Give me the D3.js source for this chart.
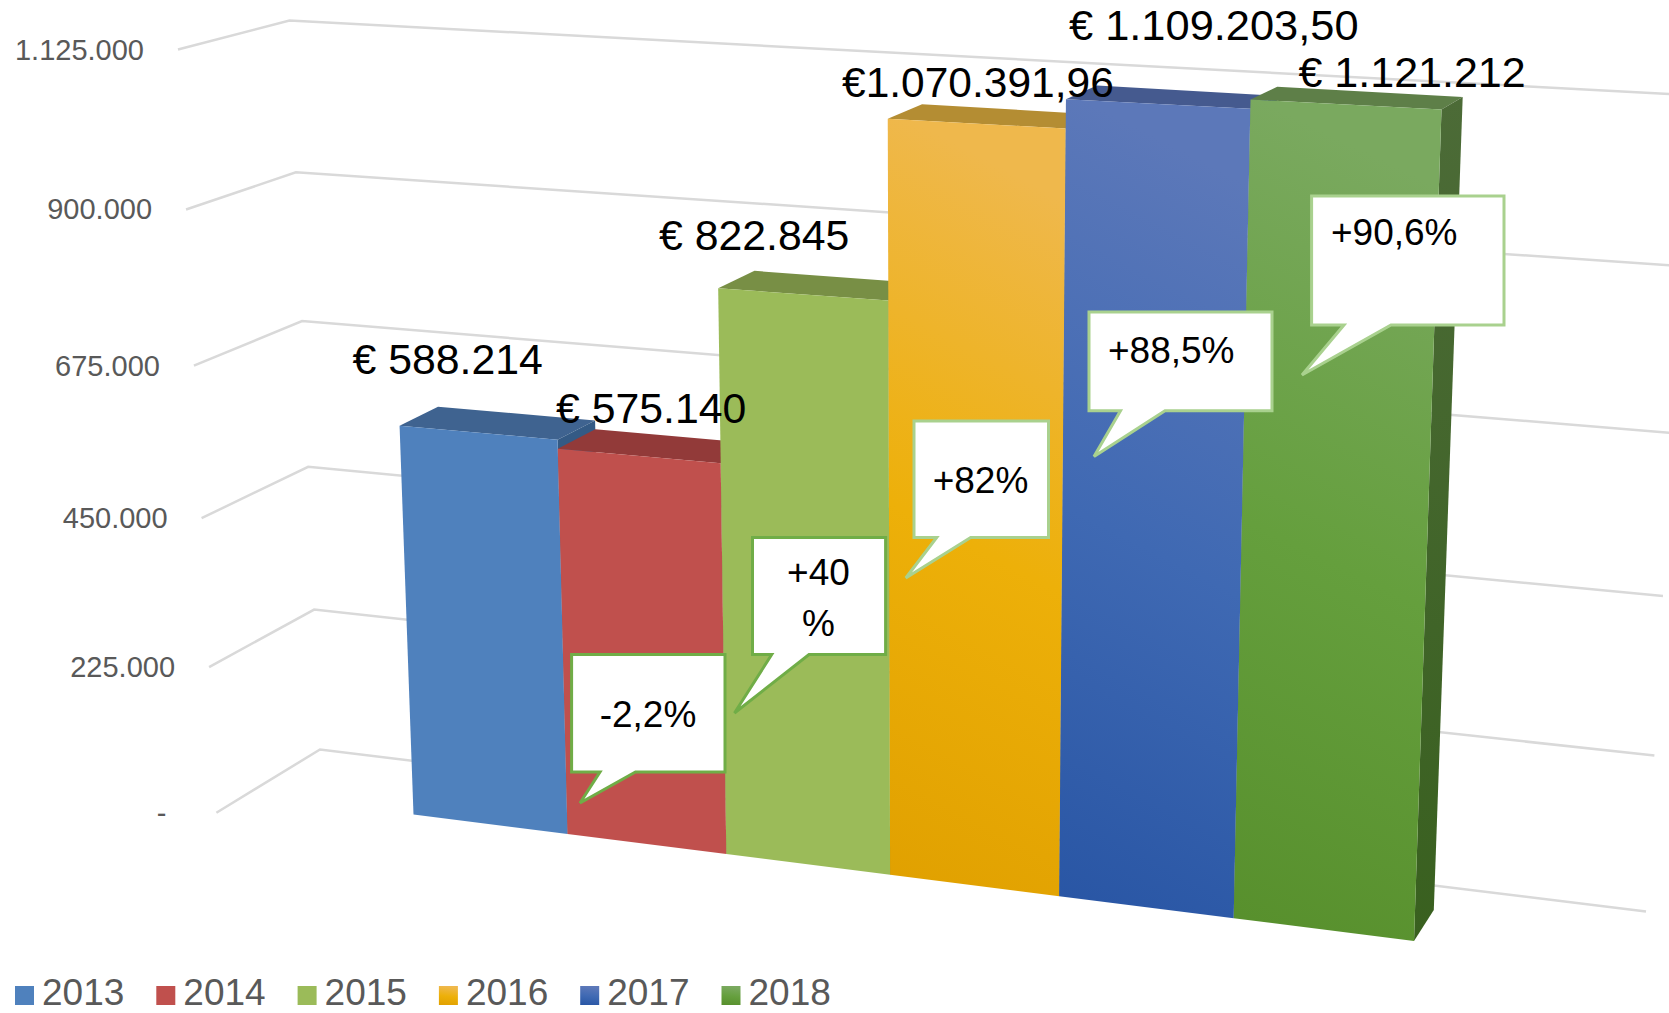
<!DOCTYPE html>
<html><head><meta charset="utf-8">
<script src="https://cdnjs.cloudflare.com/ajax/libs/d3/7.8.5/d3.min.js"></script>
<style>html,body{margin:0;padding:0;background:#fff;overflow:hidden}svg{display:block}text{font-family:"Liberation Sans",Arial,sans-serif}</style>
</head><body><div id="chart"></div>
<script>
// ---- data ----
const years = ["2013","2014","2015","2016","2017","2018"];
const values = [588214,575140,822845,1070391.96,1109203.5,1121212];
const valueLabels = ["€ 588.214","€ 575.140","€ 822.845","€1.070.391,96","€ 1.109.203,50","€ 1.121.212"];
const tickValues = [0,225000,450000,675000,900000,1125000];
const tickLabels = ["-","225.000","450.000","675.000","900.000","1.125.000"];
const growthLabels = [["-2,2%"],["+40","%"],["+82%"],["+88,5%"],["+90,6%"]];

// ---- style ----
const frontTop = ["#4F81BD","#C0504D","#9BBB59","#EFB84C","#5C78B9","#7AA95F"];
const frontMid = ["#4F81BD","#C0504D","#9BBB59","#EDB009","#3F69B3","#659F3D"];
const frontBot = ["#4F81BD","#C0504D","#9BBB59","#E0A000","#2855A4","#578F2C"];
const topFace  = ["#3F6390","#923A39","#788F45","#B48D33","#455A8F","#5E7F48"];
const sideFace = ["#345A85","#8A3533","#6B8340","#A87F10","#2D4C88"];

// ---- layout: projected planes (screen corners) ----
const W = 1669, H = 1013;
function homography(c){ // unit square -> quad [p00,p10,p11,p01]
  const [[x0,y0],[x1,y1],[x2,y2],[x3,y3]] = c;
  const dx1=x1-x2, dx2=x3-x2, sx=x0-x1+x2-x3, dy1=y1-y2, dy2=y3-y2, sy=y0-y1+y2-y3;
  const d=dx1*dy2-dx2*dy1, g=(sx*dy2-dx2*sy)/d, h=(dx1*sy-sx*dy1)/d;
  const a=x1-x0+g*x1, b=x3-x0+h*x3, e=y1-y0+g*y1, f=y3-y0+h*y3;
  return (u,v)=>{const w=g*u+h*v+1; return [(a*u+b*v+x0)/w,(e*u+f*v+y0)/w];};
}
const barFront = homography([[413.5,814.5],[1414,941],[1441.5,109.4],[386.3,55.2]]);
const barBack  = homography([[451,792],[1433.8,910],[1462.7,97],[425.6,39.2]]);
const wall     = homography([[320,749.5],[1646,911.5],[1690,95],[289.5,20.5]]);
const sideWall = homography([[216.4,812.7],[320,749.5],[289.5,20.5],[178,49.5]]);

const xPos = d3.scaleLinear().domain([0,years.length]).range([0,1]);
const vBar = d3.scaleLinear().domain([0,1121212]).range([0,1]);
const vGrid = d3.scaleLinear().domain([0,1125000]).range([0,1]);

const labelPos = [[352.5,374],[556,423],[659,250],[842,97],[1069,40],[1298.5,87.3]];
const labelSize = [42.8,42.8,42.8,42.5,43.4,43];
const callouts = [
 {box:[571.6,654.6,725,772], tail:[[600,772],[580,803],[635.5,772]], stroke:"#70AD47", text:[[648,727]], anchor:"middle"},
 {box:[752.5,537.5,885.6,654.6], tail:[[771.7,654.6],[734.5,713],[809,654.6]], stroke:"#70AD47", text:[[818.5,585],[818.5,636]], anchor:"middle"},
 {box:[914,421,1048.5,537.5], tail:[[936.7,537.5],[905.8,578],[970.7,537.5]], stroke:"#A9D18E", text:[[980.5,492.5]], anchor:"middle"},
 {box:[1089,312,1272,410.7], tail:[[1120.5,410.7],[1094,456.6],[1165,410.7]], stroke:"#A9D18E", text:[[1108,362.5]], anchor:"start"},
 {box:[1311.6,196,1504,325], tail:[[1344,325],[1302,375],[1391,325]], stroke:"#A9D18E", text:[[1331,245]], anchor:"start"}
];

const svg = d3.select("#chart").append("svg").attr("width",W).attr("height",H);
const defs = svg.append("defs");
const line = d3.line();
const closed = pts => line(pts)+"Z";

years.forEach((y,i)=>{
  const g = defs.append("linearGradient").attr("id","g"+i).attr("x1",0.12).attr("y1",0).attr("x2",0).attr("y2",1);
  g.append("stop").attr("offset",0).attr("stop-color",frontTop[i]);
  g.append("stop").attr("offset",0.5).attr("stop-color",frontMid[i]);
  g.append("stop").attr("offset",1).attr("stop-color",frontBot[i]);
});
const sg = defs.append("linearGradient").attr("id","side").attr("x1",0).attr("y1",0).attr("x2",0).attr("y2",1);
sg.append("stop").attr("offset",0).attr("stop-color","#4C6B37");
sg.append("stop").attr("offset",1).attr("stop-color","#39601F");

// gridlines
svg.append("g").selectAll("path").data(tickValues).join("path")
  .attr("d",v=>line([sideWall(0,vGrid(v)),wall(0,vGrid(v)),wall(1,vGrid(v))]))
  .attr("fill","none").attr("stroke","#d9d9d9").attr("stroke-width",2.5);

// axis labels
svg.append("g").selectAll("text").data(tickValues).join("text")
  .attr("x",(v,i)=>sideWall(0,vGrid(v))[0]-(i===0?50:34))
  .attr("y",v=>sideWall(0,vGrid(v))[1]+10)
  .attr("text-anchor","end").attr("font-size",29).attr("fill","#595959")
  .text((v,i)=>tickLabels[i]);

// bars
const bars = svg.append("g").selectAll("g").data(values).join("g");
bars.append("path").attr("class","top")
  .attr("d",(v,i)=>closed([barFront(xPos(i),vBar(v)),barFront(xPos(i+1),vBar(v)),barBack(xPos(i+1),vBar(v)),barBack(xPos(i),vBar(v))]))
  .attr("fill",(v,i)=>topFace[i]);
bars.filter((v,i)=>i<years.length-1).append("path")
  .attr("d",(v,i)=>closed([barFront(xPos(i+1),vBar(v)),barBack(xPos(i+1),vBar(v)),barBack(xPos(i+1),0),barFront(xPos(i+1),0)]))
  .attr("fill",(v,i)=>sideFace[i]);
bars.filter((v,i)=>i===years.length-1).append("path")
  .attr("d",v=>closed([barFront(xPos(6),vBar(v)),barBack(xPos(6),vBar(v)),barBack(xPos(6),0),barFront(xPos(6),0)]))
  .attr("fill","url(#side)");
bars.append("path").attr("class","front")
  .attr("d",(v,i)=>closed([barFront(xPos(i),0),barFront(xPos(i+1),0),barFront(xPos(i+1),vBar(v)),barFront(xPos(i),vBar(v))]))
  .attr("fill",(v,i)=>`url(#g${i})`);

// callouts
callouts.forEach((c,k)=>{
  const [x0,y0,x1,y1]=c.box, [t0,tip,t1]=c.tail;
  svg.append("path").attr("d",closed([[x0,y0],[x1,y0],[x1,y1],t1,tip,t0,[x0,y1]]))
    .attr("fill","#fff").attr("stroke",c.stroke).attr("stroke-width",3);
  growthLabels[k].forEach((t,j)=>{
    svg.append("text").attr("x",c.text[j][0]).attr("y",c.text[j][1])
      .attr("text-anchor",c.anchor).attr("font-size",37).attr("fill","#000").text(t);
  });
});

// value labels
svg.append("g").selectAll("text").data(valueLabels).join("text")
  .attr("x",(d,i)=>labelPos[i][0]).attr("y",(d,i)=>labelPos[i][1])
  .attr("font-size",(d,i)=>labelSize[i]).attr("fill","#000").text(d=>d);

// legend
const legend = svg.append("g").selectAll("g").data(years).join("g")
  .attr("transform",(d,i)=>`translate(${15+i*141.3},986)`);
legend.append("rect").attr("width",19).attr("height",19).attr("fill",(d,i)=>`url(#g${i})`);
legend.append("text").attr("x",27).attr("y",19).attr("font-size",37).attr("fill","#595959").text(d=>d);
</script></body></html>
